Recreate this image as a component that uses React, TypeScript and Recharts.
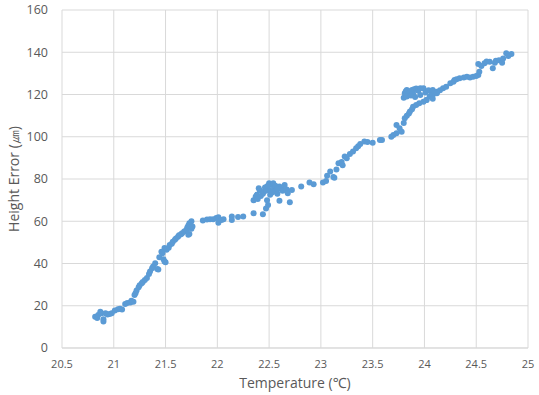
import React from 'react';
import { ScatterChart, Scatter, XAxis, YAxis, CartesianGrid, Label } from 'recharts';

const temperature: number[] = [
  20.82, 20.84, 20.85, 20.87, 20.88, 20.9, 20.9, 20.92, 20.94, 20.96, 20.98, 21.01, 21.04, 21.06, 21.08,
  21.11, 21.13, 21.16, 21.19, 21.17, 21.2, 21.21, 21.22, 21.24, 21.25, 21.27, 21.28, 21.3, 21.32, 21.34,
  21.35, 21.37, 21.38, 21.4, 21.42, 21.43, 21.44, 21.46, 21.47, 21.48, 21.49, 21.5, 21.49, 21.51, 21.53,
  21.54, 21.56, 21.57, 21.59, 21.6, 21.62, 21.63, 21.65, 21.66, 21.68, 21.7, 21.71, 21.72, 21.73, 21.74,
  21.75, 21.75, 21.73, 21.76, 21.72,
  21.86, 21.9, 21.93, 21.96, 21.99, 22.01, 22.01, 22.04, 22.06, 22.14, 22.14, 22.2, 22.25, 22.35, 22.44,
  22.35, 22.37, 22.38, 22.39, 22.4, 22.41, 22.42, 22.44, 22.45, 22.46, 22.47, 22.48, 22.49, 22.5, 22.51,
  22.51, 22.52, 22.54, 22.55, 22.56, 22.57, 22.58, 22.6, 22.6, 22.62, 22.63, 22.65, 22.67, 22.68, 22.7,
  22.47, 22.49, 22.48, 22.53, 22.58,
  22.72, 22.81, 22.89, 22.93, 23.02, 23.05, 23.06, 23.09, 23.12, 23.13, 23.15, 23.17, 23.2, 23.21, 23.23,
  23.25, 23.28, 23.31, 23.34, 23.36, 23.38, 23.42, 23.45, 23.5, 23.57, 23.59, 23.68, 23.7, 23.73, 23.73,
  23.76, 23.78, 23.8, 23.81, 23.83, 23.85, 23.86, 23.88, 23.89, 23.92, 23.95, 23.99, 24.02, 24.05, 24.08,
  24.12, 24.15, 24.18, 24.21, 24.25, 24.28, 24.29, 24.31, 24.34, 24.38, 24.41, 24.44, 24.47, 24.5, 24.52,
  24.53,
  23.8, 23.81, 23.82, 23.83, 23.84, 23.86, 23.88, 23.89, 23.9, 23.92, 23.94, 23.96, 23.99, 24.01, 24.04,
  24.06, 24.08, 24.1, 23.83, 23.87, 23.91, 23.96, 24.02, 24.08, 24.12,
  24.52, 24.55, 24.58, 24.6, 24.63, 24.66, 24.68, 24.69, 24.72, 24.75, 24.76, 24.79, 24.81, 24.84,
];

const heightError: number[] = [
  14.8, 14.2, 15.6, 17.2, 16.5, 12.5, 13.6, 16.4, 15.8, 16.1, 16.5, 17.7, 18.3, 18.6, 18.2,
  20.8, 21.3, 21.5, 21.9, 22.4, 25.1, 25.9, 27.2, 28.8, 29.7, 30.6, 31.3, 32.2, 33.1, 35.0,
  36.2, 37.7, 38.6, 40.1, 37.4, 37.2, 43.0, 45.6, 44.8, 42.0, 40.9, 40.6, 47.3, 46.5, 47.5,
  48.8, 49.4, 50.3, 51.2, 51.8, 52.7, 53.4, 53.9, 54.3, 55.2, 55.9, 57.0, 58.0, 59.0, 58.2,
  60.0, 56.5, 54.0, 57.5, 53.6,
  60.3, 60.8, 61.0, 60.9, 61.5, 61.9, 59.3, 60.6, 60.9, 62.2, 60.6, 62.0, 62.2, 63.8, 63.3,
  70.0, 71.6, 72.5, 70.5, 75.6, 74.5, 72.0, 73.0, 74.0, 76.0, 66.0, 76.4, 67.7, 78.0, 74.4,
  72.5, 77.2, 78.0, 75.6, 76.8, 74.4, 73.0, 76.4, 69.7, 75.2, 74.4, 77.2, 75.0, 73.2, 69.0,
  74.6, 76.8, 70.0, 73.6, 75.4,
  74.8, 76.4, 78.4, 77.5, 78.4, 79.0, 81.5, 83.5, 81.0, 80.6, 84.5, 87.4, 88.0, 86.5, 90.6,
  89.8, 91.8, 93.0, 94.5, 95.5, 96.6, 97.7, 97.5, 97.2, 98.5, 98.5, 100.0, 100.8, 101.6, 105.6,
  104.0, 102.4, 106.5, 108.7, 110.0, 111.0, 111.9, 113.0, 114.2, 115.0, 115.8, 116.6, 117.4, 119.0, 119.8,
  121.3, 122.0, 122.9, 123.7, 125.3, 126.0, 126.9, 127.2, 127.7, 128.0, 128.4, 128.0, 128.4, 128.8, 129.2,
  130.8,
  118.5, 120.6, 121.5, 122.1, 120.0, 121.5, 122.1, 120.5, 122.5, 122.8, 121.8, 122.9, 122.9, 121.0, 122.0,
  121.5, 122.1, 121.0, 119.0, 119.5, 118.8, 119.8, 117.4, 118.0, 120.6,
  134.4, 133.5, 134.8, 135.6, 135.5, 132.4, 135.0, 136.0, 136.2, 135.0, 137.1, 139.5, 138.2, 139.2,
];

const xTicks: number[] = [20.5, 21, 21.5, 22, 22.5, 23, 23.5, 24, 24.5, 25];
const yTicks: number[] = [0, 20, 40, 60, 80, 100, 120, 140, 160];

const points = temperature.map((t, i) => ({ x: t, y: heightError[i] }));

const font = '"Open Sans", "Noto Sans", sans-serif';

const Dot = (props: any) => {
  const { cx, cy } = props;
  if (cx == null || cy == null) return null;
  return <circle cx={cx} cy={cy} r={3} fill="#5B9BD5" />;
};

export default function App() {
  return (
    <div style={{ position: 'absolute', left: 0, top: 0, width: 539, height: 395, background: '#fff' }}>
      <ScatterChart width={539} height={395} margin={{ top: 10, right: 11, left: 0, bottom: 0 }}>
        <CartesianGrid stroke="#d9d9d9" strokeWidth={1} />
        <XAxis
          type="number"
          dataKey="x"
          domain={[20.5, 25]}
          ticks={xTicks}
          interval={0}
          height={47}
          axisLine={{ stroke: '#d9d9d9' }}
          tickLine={false}
          tick={{ fill: '#595959', fontSize: 11, fontFamily: font }}
          tickMargin={6}
          allowDataOverflow
        >
          <Label value="Temperature (℃)" position="insideBottom" offset={7} style={{ fill: '#595959', fontSize: 14, fontFamily: font }} />
        </XAxis>
        <YAxis
          type="number"
          dataKey="y"
          domain={[0, 160]}
          ticks={yTicks}
          interval={0}
          width={62}
          axisLine={false}
          tickLine={false}
          tick={{ fill: '#595959', fontSize: 12.5, fontFamily: font }}
          tickMargin={8}
          allowDataOverflow
        >
          <Label value="Height Error (㎛)" angle={-90} position="insideLeft" offset={14} style={{ fill: '#595959', fontSize: 14, fontFamily: font, textAnchor: 'middle' }} />
        </YAxis>
        <Scatter data={points} shape={<Dot />} isAnimationActive={false} />
      </ScatterChart>
    </div>
  );
}
